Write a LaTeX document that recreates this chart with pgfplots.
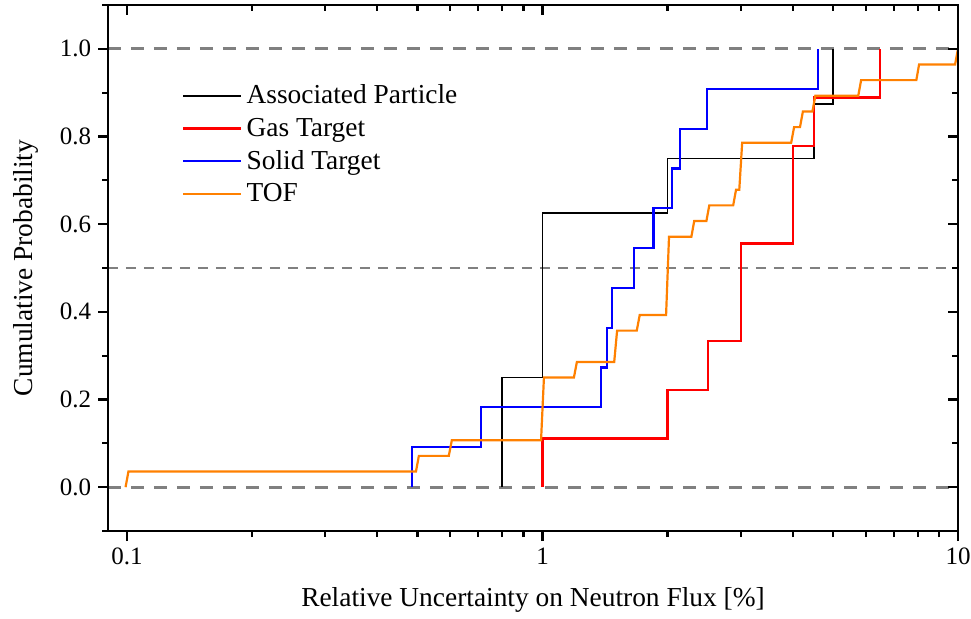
\documentclass[border=0pt]{standalone}
\usepackage{pgfplots}
\pgfplotsset{compat=1.18}
\usepackage{fontspec}
\setmainfont{Liberation Serif}
\usetikzlibrary{calc}

\definecolor{tofor}{RGB}{255,128,0}
\definecolor{refgray}{RGB}{128,128,128}

\begin{document}
\begin{tikzpicture}
\begin{axis}[
  name=ax,
  width=425pt, height=263pt, scale only axis,
  xmode=log, xmin=0.09, xmax=10,
  ymin=-0.1, ymax=1.1,
  xtick={0.1,1,10},
  ytick={0,0.2,0.4,0.6,0.8,1.0},
  minor ytick={-0.1,0.1,0.3,0.5,0.7,0.9,1.1},
  major tick length=5pt, minor tick length=3pt,
  axis line style={line width=1.1pt},
  every tick/.style={black, line width=1.1pt},
  tick align=outside, xtick pos=left, ytick pos=left,
  xticklabels={0.1,1,10},
  yticklabel style={/pgf/number format/fixed, /pgf/number format/fixed zerofill, /pgf/number format/precision=1},
  /pgf/number format/assume math mode=true,
  tick label style={font=\fontsize{12.5}{15}\selectfont},
  xlabel={Relative Uncertainty on Neutron Flux [\%]},
  ylabel={Cumulative Probability},
  every axis x label/.style={at={(axis description cs:0.5,-0.131)}, anchor=center,
    font=\fontsize{13.7}{16}\selectfont},
  every axis y label/.style={at={(axis description cs:-0.096,0.5)}, anchor=center, rotate=90,
    font=\fontsize{13.7}{16}\selectfont},
  legend style={at={(rel axis cs:0.08,0.864)}, anchor=north west, draw=none, fill=none,
    font=\fontsize{13.7}{16}\selectfont, row sep=1.5pt},
  legend cell align=left,
  legend image code/.code={\draw[#1] (0pt,0pt) -- (29pt,0pt);},
]
% reference lines
\addplot[refgray, line width=1.5pt, dash pattern=on 6.5pt off 5pt, forget plot] coordinates {(0.09,0) (10,0)};
\addplot[refgray, line width=1.5pt, dash pattern=on 6.5pt off 5pt, forget plot] coordinates {(0.09,1) (10,1)};
\addplot[refgray, line width=1pt, dash pattern=on 5pt off 4pt, forget plot] coordinates {(0.09,0.5) (10,0.5)};

% Associated Particle
\addplot[black, line width=0.9pt] coordinates {
  (0.8,0) (0.8,0.25) (1,0.25) (1,0.625) (2,0.625) (2,0.75)
  (4.5,0.75) (4.5,0.875) (5,0.875) (5,1)};
% Gas Target
\addplot[red, line width=1.1pt] coordinates {
  (1,0) (1,0.111) (2,0.111) (2,0.222) (2.5,0.222) (2.5,0.333)
  (3,0.333) (3,0.556) (4,0.556) (4,0.778) (4.5,0.778) (4.5,0.889)
  (6.5,0.889) (6.5,1)};
% Solid Target
\addplot[blue, line width=1.1pt] coordinates {
  (0.485,0) (0.485,0.091) (0.71,0.091) (0.71,0.182) (1.38,0.182) (1.38,0.273)
  (1.43,0.273) (1.43,0.364) (1.47,0.364) (1.47,0.455) (1.66,0.455) (1.66,0.545)
  (1.85,0.545) (1.85,0.636) (2.05,0.636) (2.05,0.727) (2.14,0.727) (2.14,0.818)
  (2.49,0.818) (2.49,0.909) (4.6,0.909) (4.6,1)};
% TOF
\addplot[tofor, line width=1.1pt] coordinates {
  (0.0992,0) (0.1008,0.0357) (0.496,0.0357) (0.504,0.0714) (0.595,0.0714) (0.605,0.1071)
  (0.992,0.1071) (1.008,0.25) (1.19,0.25) (1.21,0.2857) (1.488,0.2857) (1.512,0.3571)
  (1.686,0.3571) (1.714,0.3929) (1.984,0.3929) (2.016,0.5714) (2.282,0.5714) (2.318,0.6071)
  (2.48,0.6071) (2.52,0.6429) (2.877,0.6429) (2.923,0.6786) (2.976,0.6786) (3.024,0.7857)
  (3.968,0.7857) (4.032,0.8214) (4.166,0.8214) (4.234,0.8571) (4.464,0.8571) (4.536,0.8929)
  (5.754,0.8929) (5.846,0.9286) (7.94,0.9286) (8.06,0.9643) (9.84,0.9643) (10,1)};
\legend{Associated Particle, Gas Target, Solid Target, TOF}
\end{axis}
% mirrored ticks pointing inward on top and right
\begin{axis}[
  width=425pt, height=263pt, scale only axis,
  xmode=log, xmin=0.09, xmax=10,
  ymin=-0.1, ymax=1.1,
  xtick={0.1,1,10},
  ytick={0,0.2,0.4,0.6,0.8,1.0},
  minor ytick={-0.1,0.1,0.3,0.5,0.7,0.9,1.1},
  major tick length=5pt, minor tick length=3pt,
  axis line style={line width=1.1pt},
  every tick/.style={black, line width=1.1pt},
  tick align=inside, xtick pos=right, ytick pos=right,
  xticklabels={}, yticklabels={},
]
\end{axis}
\pgfresetboundingbox
\path[use as bounding box] ($(ax.south west)+(-54pt,-43.5pt)$) rectangle ($(ax.north east)+(6.5pt,2.5pt)$);
\end{tikzpicture}
\end{document}
